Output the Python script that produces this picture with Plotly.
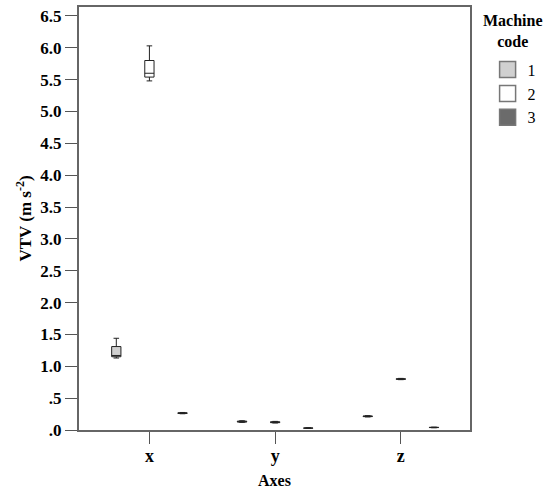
import plotly.graph_objects as go

axes_cats = ["x", "y", "z"]
machine_codes = ["1", "2", "3"]
fills = ["#d0d0d0", "#ffffff", "#6b6b6b"]

# box statistics per machine code, per axis (x, y, z)
lower = {"1": [1.13, 0.120, 0.205], "2": [5.48, 0.110, 0.790], "3": [0.255, 0.025, 0.035]}
q1 = {"1": [1.15, 0.125, 0.210], "2": [5.54, 0.115, 0.795], "3": [0.260, 0.028, 0.038]}
median = {"1": [1.17, 0.130, 0.215], "2": [5.60, 0.120, 0.800], "3": [0.265, 0.030, 0.040]}
q3 = {"1": [1.31, 0.140, 0.220], "2": [5.80, 0.130, 0.805], "3": [0.270, 0.032, 0.042]}
upper = {"1": [1.44, 0.145, 0.225], "2": [6.03, 0.135, 0.810], "3": [0.275, 0.035, 0.045]}

ytick_vals = [0, 0.5, 1, 1.5, 2, 2.5, 3, 3.5, 4, 4.5, 5, 5.5, 6, 6.5]
ytick_text = [".0", ".5", "1.0", "1.5", "2.0", "2.5", "3.0", "3.5", "4.0", "4.5", "5.0", "5.5", "6.0", "6.5"]

serif = "Liberation Serif, Times New Roman, serif"

fig = go.Figure()
for code, fc in zip(machine_codes, fills):
    fig.add_trace(go.Box(
        name=code, legendgroup=code, showlegend=False,
        x=axes_cats,
        lowerfence=lower[code], q1=q1[code], median=median[code],
        q3=q3[code], upperfence=upper[code],
        fillcolor=fc,
        line=dict(color="#222222", width=1),
        whiskerwidth=0.6,
        boxpoints=False,
    ))
# legend swatches (square, like the reference key)
for code, fc in zip(machine_codes, fills):
    fig.add_trace(go.Scatter(
        name=code, legendgroup=code, x=[None], y=[None], mode="markers",
        marker=dict(symbol="square", size=16, color=fc,
                    line=dict(color="#777777", width=1.5)),
    ))

fig.add_annotation(
    text="<b>Machine<br>code</b>", xref="paper", yref="paper",
    x=1.11, y=0.992, xanchor="center", yanchor="top", align="center",
    showarrow=False, font=dict(family=serif, size=16, color="black"),
)

fig.update_layout(
    width=555, height=494,
    margin=dict(l=79, r=85, t=7, b=64),
    paper_bgcolor="white", plot_bgcolor="white",
    boxmode="group", boxgap=0.21, boxgroupgap=0.72,
    font=dict(family=serif, size=16, color="black"),
    showlegend=True,
    legend=dict(
        x=1.045, xanchor="left", y=0.892, yanchor="top",
        font=dict(family=serif, size=16),
        itemwidth=30, tracegroupgap=0,
    ),
    xaxis=dict(
        title=dict(text="<b>Axes</b>", font=dict(size=16), standoff=10),
        categoryorder="array", categoryarray=axes_cats,
        range=[-0.56, 2.55],
        ticks="outside", ticklen=12, tickcolor="#555555",
        tickfont=dict(size=18, family=serif),
        ticktext=["<b>x</b>", "<b>y</b>", "<b>z</b>"], tickvals=axes_cats,
        ticklabelstandoff=-4,
        showline=True, linecolor="#666666", linewidth=2, mirror=True,
        showgrid=False, zeroline=False, automargin=False,
    ),
    yaxis=dict(
        title=dict(text="<b>VTV (m s<sup>-2</sup>)</b>", font=dict(size=17), standoff=4),
        range=[0, 6.64],
        tickvals=ytick_vals,
        ticktext=["<b>%s</b>" % t for t in ytick_text],
        ticks="outside", ticklen=12, tickcolor="#555555",
        tickfont=dict(size=17, family=serif),
        ticklabelstandoff=0,
        showline=True, linecolor="#666666", linewidth=2, mirror=True,
        showgrid=False, zeroline=False, automargin=False,
    ),
)

fig.write_html("out.html")
